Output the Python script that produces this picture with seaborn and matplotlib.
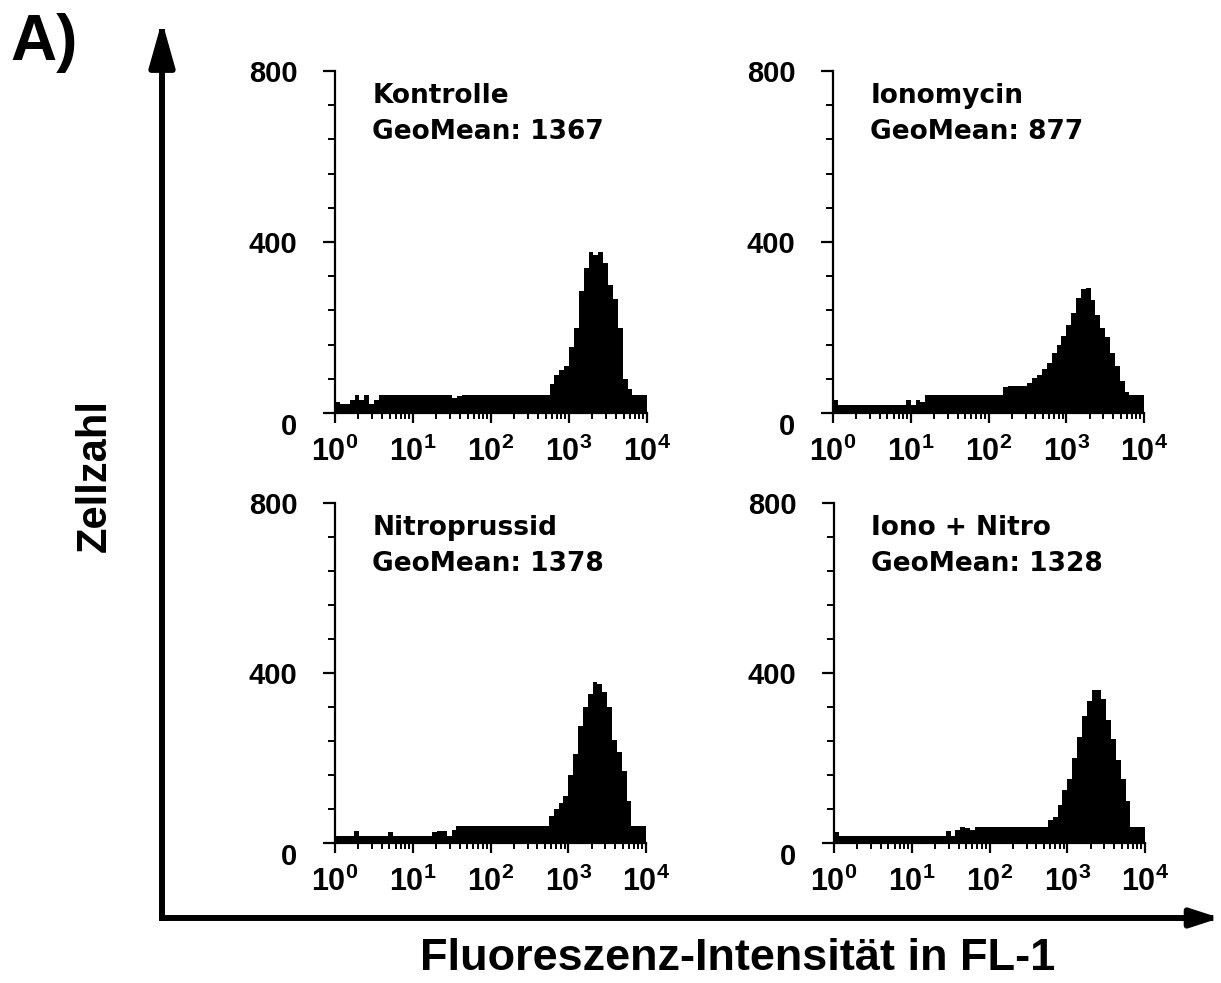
import numpy as np
import matplotlib
matplotlib.use('Agg')
import matplotlib.pyplot as plt
import seaborn as sns
from matplotlib.ticker import FixedLocator, LogLocator, MultipleLocator, NullFormatter

# FL-1 histograms, 64 log channels from 10^0 to 10^4 (cell counts per channel)
conditions = ['Kontrolle', 'Ionomycin', 'Nitroprussid', 'Iono + Nitro']
geomeans = [1367, 877, 1378, 1328]

kontrolle = [25, 22, 22, 30, 43, 30, 43, 22, 30, 43,
             43, 43, 43, 43, 43, 43, 43, 43, 43, 43,
             43, 43, 43, 43, 35, 40, 43, 43, 43, 43,
             43, 43, 43, 43, 43, 43, 43, 43, 43, 43,
             43, 43, 43, 43, 67, 88, 100, 111, 154, 200,
             286, 340, 377, 370, 377, 350, 300, 266, 200, 80,
             55, 43, 43, 43]
ionomycin = [30, 18, 18, 18, 18, 18, 18, 18, 18, 18,
             18, 18, 18, 18, 18, 30, 18, 30, 25, 41,
             41, 41, 41, 41, 41, 41, 41, 41, 41, 41,
             41, 41, 41, 41, 41, 60, 62, 62, 62, 62,
             70, 82, 90, 103, 118, 140, 160, 180, 205, 235,
             270, 290, 292, 265, 230, 200, 178, 140, 110, 75,
             50, 41, 41, 41]
nitroprussid = [16, 16, 16, 16, 28, 16, 16, 16, 16, 16,
                16, 25, 16, 16, 16, 16, 16, 16, 16, 16,
                25, 28, 28, 16, 30, 41, 41, 41, 41, 41,
                41, 41, 41, 41, 41, 41, 41, 41, 41, 41,
                41, 41, 41, 41, 64, 80, 95, 110, 160, 210,
                275, 320, 350, 380, 375, 355, 320, 243, 215, 170,
                100, 41, 41, 41]
iono_nitro = [25, 16, 16, 16, 16, 16, 16, 16, 16, 16,
              16, 16, 16, 16, 16, 16, 16, 16, 16, 16,
              16, 16, 16, 28, 16, 30, 38, 35, 30, 38,
              38, 38, 38, 38, 38, 38, 38, 38, 38, 38,
              38, 38, 38, 38, 55, 62, 90, 125, 150, 200,
              250, 300, 335, 361, 361, 340, 290, 245, 195, 150,
              100, 38, 38, 38]
counts = [kontrolle, ionomycin, nitroprussid, iono_nitro]

n_bins = 64
decades = (0, 4)
channels = 10 ** (decades[0] + (np.arange(n_bins) + 0.5) * (decades[1] - decades[0]) / n_bins)

sns.set_style('white')
plt.rcParams['font.family'] = ['DejaVu Sans']
plt.rcParams['font.weight'] = 'bold'
for key in ['text.color', 'axes.labelcolor', 'xtick.color', 'ytick.color', 'axes.edgecolor']:
    plt.rcParams[key] = 'black'
plt.rcParams['mathtext.fontset'] = 'custom'
plt.rcParams['mathtext.bf'] = 'Liberation Sans:bold'
plt.rcParams['mathtext.rm'] = 'Liberation Sans:bold'

W, H = 1221, 983
fig = plt.figure(figsize=(W / 100, H / 100), dpi=100)

# panel boxes in pixels: left, bottom(y of zero line), width, height
boxes = [(335, 413, 312, 342), (833, 413, 311, 342),
         (335, 843, 311, 340), (834, 843, 311, 340)]

xlabels = [r'$\mathbf{10^{%d}}$' % i for i in range(5)]

for name, gm, c, (l, b, w, h) in zip(conditions, geomeans, counts, boxes):
    ax = fig.add_axes([l / W, 1 - b / H, w / W, h / H])
    sns.histplot(x=channels, weights=c, bins=n_bins, binrange=decades, log_scale=True,
                 element='step', fill=True, color='black', alpha=1, linewidth=0, ax=ax)
    ax.set_xlim(1, 1e4)
    ax.set_ylim(0, 800)
    ax.set_xlabel('')
    ax.set_ylabel('')
    for s in ['top', 'right']:
        ax.spines[s].set_visible(False)
    for s in ['left', 'bottom']:
        ax.spines[s].set_linewidth(1.6)

    ax.yaxis.set_major_locator(FixedLocator([0, 400, 800]))
    ax.yaxis.set_minor_locator(MultipleLocator(80))
    ax.set_yticklabels(['0', '400', '800'], fontsize=21, fontweight='bold',
                       family=['Liberation Sans'])
    ax.get_yticklabels()[0].set_va('top')
    ax.tick_params(axis='y', which='major', direction='out', length=9, width=1.6, pad=18, left=True)
    ax.tick_params(axis='y', which='minor', direction='out', length=5, width=1.4, left=True)

    ax.xaxis.set_major_locator(FixedLocator([1, 10, 100, 1000, 10000]))
    ax.xaxis.set_minor_locator(LogLocator(base=10, subs=np.arange(2, 10)))
    ax.xaxis.set_minor_formatter(NullFormatter())
    ax.set_xticklabels(xlabels, fontsize=22)
    ax.tick_params(axis='x', which='major', direction='out', length=7, width=1.6, pad=9, bottom=True)
    ax.tick_params(axis='x', which='minor', direction='out', length=4, width=1.4, bottom=True)

    ax.text(0.12, 0.905, name, transform=ax.transAxes, fontsize=19, fontweight='bold', va='baseline')
    ax.text(0.12, 0.80, 'GeoMean: %d' % gm, transform=ax.transAxes, fontsize=19,
            fontweight='bold', va='baseline')

# big L-shaped axis arrows
ov = fig.add_axes([0, 0, 1, 1], zorder=-1)
ov.set_xlim(0, W)
ov.set_ylim(H, 0)
ov.axis('off')
up = dict(arrowstyle='-|>,head_length=1.95,head_width=0.55', lw=4.3, color='black',
          mutation_scale=14, shrinkA=0, shrinkB=0, capstyle='projecting')
right = dict(arrowstyle='-|>,head_length=1.7,head_width=0.55', lw=4.3, color='black',
             mutation_scale=10, shrinkA=0, shrinkB=0, capstyle='projecting')
ov.annotate('', xy=(162, 21), xytext=(162, 918), arrowprops=up, annotation_clip=False)
ov.annotate('', xy=(1220, 918), xytext=(162, 918), arrowprops=right, annotation_clip=False)

fig.text(738 / W, 1 - 958 / H, 'Fluoreszenz-Intensität in FL-1', ha='center', va='center',
         fontsize=32.5, fontweight='bold', family=['Liberation Sans'])
fig.text(95 / W, 1 - 475 / H, 'Zellzahl', ha='center', va='center', rotation=90,
         fontsize=30, fontweight='bold', family=['Liberation Sans'])
fig.text(10 / W, 1 - 13 / H, 'A)', ha='left', va='top', fontsize=46, fontweight='bold',
         family=['Liberation Sans'])

fig.savefig('out.png', dpi=100)
